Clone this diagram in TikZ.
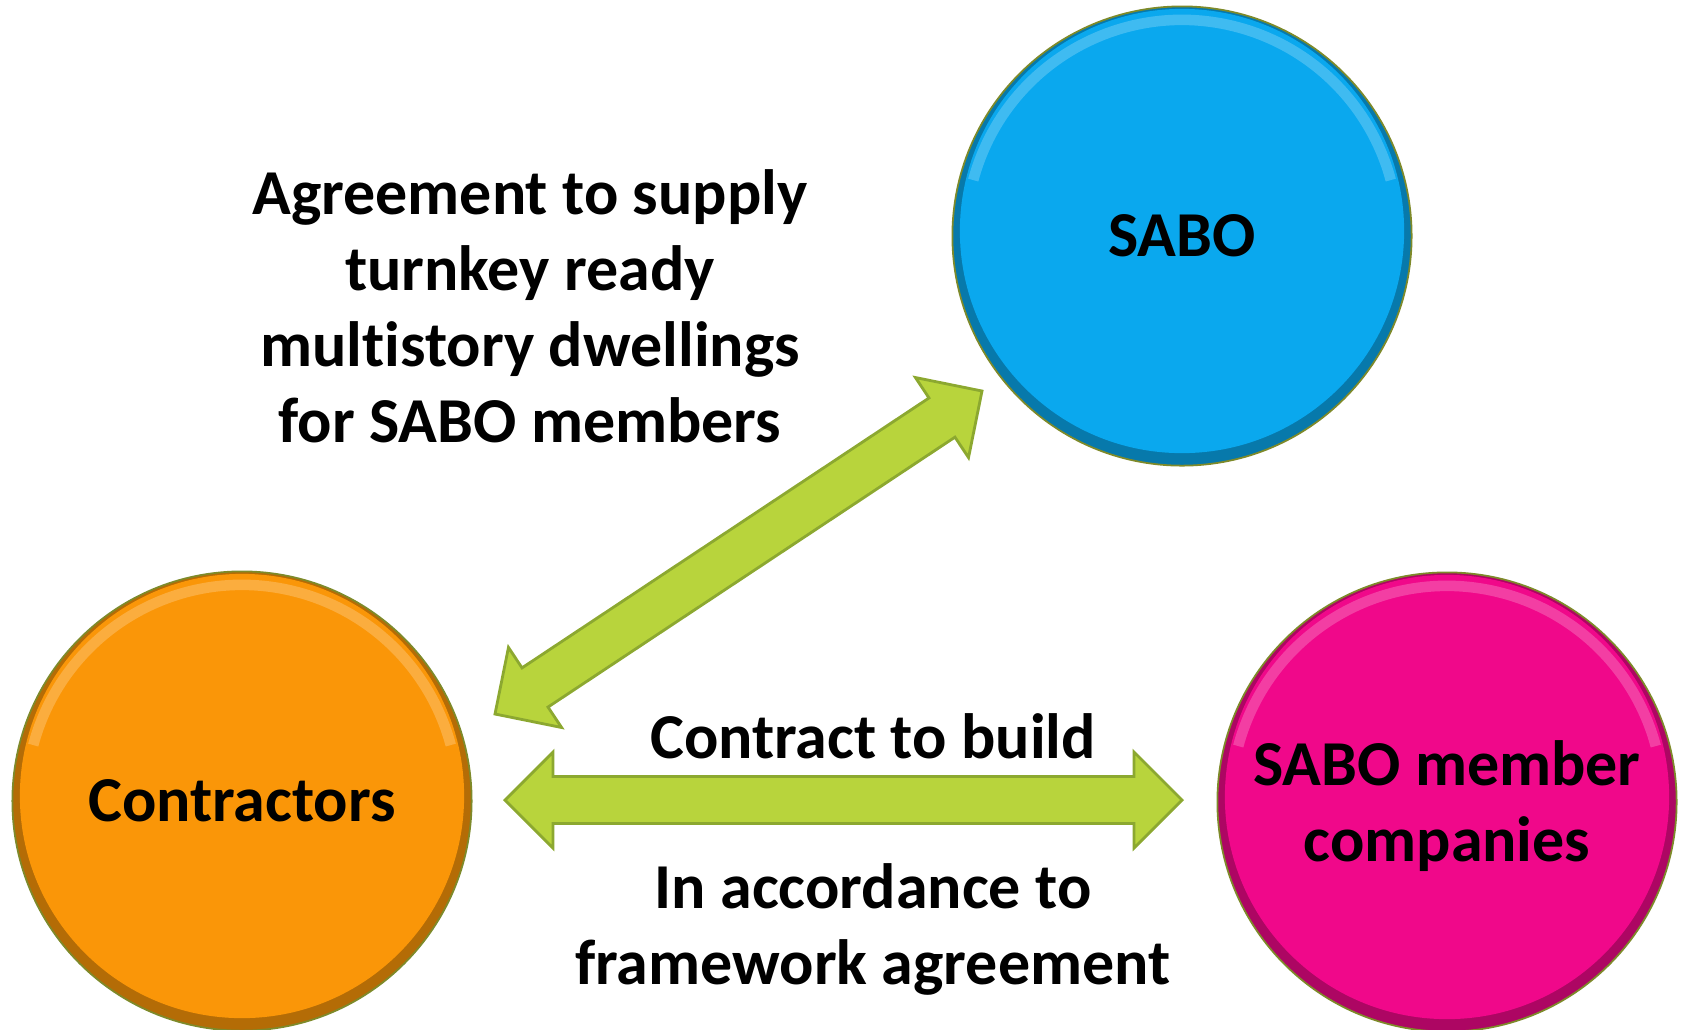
\documentclass[tikz,border=0pt]{standalone}
\usepackage{fontspec}
\setmainfont{Carlito}[Ligatures={NoCommon}]
\usetikzlibrary{calc}
\definecolor{sabo}{HTML}{0AA8EE}
\definecolor{contr}{HTML}{FA9608}
\definecolor{member}{HTML}{F0088A}
\definecolor{arrowgreen}{HTML}{B8D43C}
\definecolor{arrowedge}{HTML}{8CA830}
\definecolor{rim}{HTML}{7E8A2A}
\newcommand\hl{0.48cm}
\newcommand\hw{0.48cm}
\newcommand\sw{0.235cm}
\newcommand\fatarrow[2]{%
  \path[bigarrow] let \p1=(#1), \p2=(#2), \n1={atan2(\y2-\y1,\x2-\x1)} in
    (\p1) -- ($(\p1)+(\n1:\hl)+(\n1+90:\hw)$) -- ($(\p1)+(\n1:\hl)+(\n1+90:\sw)$)
    -- ($(\p2)+(\n1+180:\hl)+(\n1+90:\sw)$) -- ($(\p2)+(\n1+180:\hl)+(\n1+90:\hw)$) -- (\p2)
    -- ($(\p2)+(\n1+180:\hl)+(\n1-90:\hw)$) -- ($(\p2)+(\n1+180:\hl)+(\n1-90:\sw)$)
    -- ($(\p1)+(\n1:\hl)+(\n1-90:\sw)$) -- ($(\p1)+(\n1:\hl)+(\n1-90:\hw)$) -- cycle;}
\tikzset{
  bigarrow/.style={draw=arrowedge, fill=arrowgreen, line width=0.8pt, line join=miter},
  label/.style={font=\fontsize{18.2}{21.6}\selectfont\bfseries, align=center, text=black},
  ball/.style={circle, minimum size=4.59cm, inner sep=0pt, draw=rim, line width=0.5pt,
    font=\fontsize{18.2}{21.6}\selectfont\bfseries, align=center, text=black,
    path picture={
      \fill[#1!72!black] (path picture bounding box.center) circle (2.3cm);
      \fill[#1] ($(path picture bounding box.center)+(0,0.05cm)$) circle (2.22cm);
      \draw[white, opacity=0.22, line width=3pt] (path picture bounding box.center) ++(165:2.16cm) arc (165:15:2.16cm);
    }},
}
\begin{document}
\begin{tikzpicture}[x=0.01cm, y=-0.01cm]
\useasboundingbox (0,0) rectangle (1685,1029);
\node[ball=sabo] (sabo) at (1182,236) {SABO};
\node[ball=contr] (contr) at (242,801) {Contractors};
\node[ball=member] (member) at (1447,802) {\raisebox{-0.06cm}[\height][\depth]{\begin{tabular}{@{}c@{}}SABO member\\companies\end{tabular}}};
\coordinate (dA) at (495,714);
\coordinate (dB) at (982,391);
\coordinate (hA) at (505,800);
\coordinate (hB) at (1182,800);
\fatarrow{dA}{dB}
\fatarrow{hA}{hB}
\node[label] (agree) at (530,306) {Agreement to supply\\turnkey ready\\mult\kern0pt istory dwellings\\for SABO members};
\node[label] (build) at (873,736) {Contract to build};
\node[label] (accord) at (873,929) {In accordance to\\framework agreement};
\end{tikzpicture}
\end{document}
